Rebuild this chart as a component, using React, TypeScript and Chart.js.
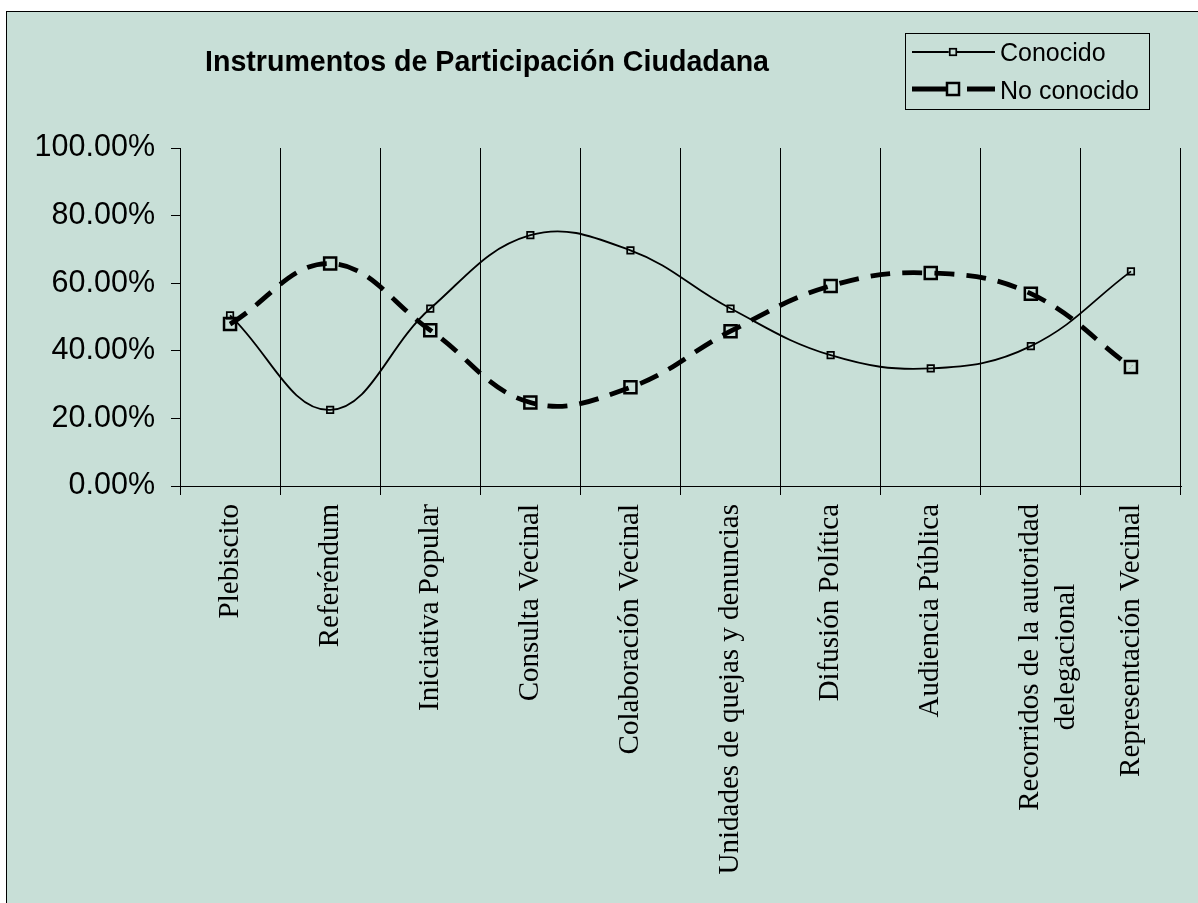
import React, { useEffect, useRef } from 'react';
import { Chart, registerables } from 'chart.js';

Chart.register(...registerables);

const title = 'Instrumentos de Participación Ciudadana';
const categories: (string | string[])[] = [
  'Plebiscito',
  'Referéndum',
  'Iniciativa Popular',
  'Consulta Vecinal',
  'Colaboración Vecinal',
  'Unidades de quejas y denuncias',
  'Difusión Política',
  'Audiencia Pública',
  ['Recorridos de la autoridad', 'delegacional'],
  'Representación Vecinal',
];
const seriesNames = ['Conocido', 'No conocido'];
const conocido = [50.5, 22.5, 52.5, 74.2, 69.7, 52.5, 38.7, 34.8, 41.4, 63.5];
const noConocido = [47.9, 65.8, 46.1, 24.7, 29.2, 45.8, 59.2, 63.0, 56.9, 35.2];
const yMin = 0;
const yMax = 100;
const yStep = 20;

const BG = '#C8DFD7';
const SANS = "'Liberation Sans', Arial, sans-serif";
const SERIF = "'Liberation Serif', 'Times New Roman', serif";
const XFONT = 29;

const measureCtx = (() => {
  const c = document.createElement('canvas');
  return c.getContext('2d')!;
})();

const overlay = {
  id: 'overlay',
  afterDraw(chart: any) {
    const ctx: CanvasRenderingContext2D = chart.ctx;
    ctx.save();
    // title
    ctx.fillStyle = '#000';
    ctx.font = `bold 28.6px ${SANS}`;
    ctx.textAlign = 'center';
    ctx.textBaseline = 'alphabetic';
    ctx.fillText(title, 487, 71);

    // legend box
    ctx.strokeStyle = '#000';
    ctx.lineWidth = 1;
    ctx.strokeRect(905.5, 33.5, 244, 76);

    const rows = [
      { ds: chart.data.datasets[0], y: 52, ty: 61 },
      { ds: chart.data.datasets[1], y: 89, ty: 99 },
    ];
    rows.forEach(({ ds, y, ty }) => {
      const half = Math.SQRT1_2 * ds.pointRadius;
      ctx.strokeStyle = '#000';
      ctx.lineWidth = ds.borderWidth;
      ctx.setLineDash([]);
      ctx.beginPath();
      ctx.moveTo(912, y);
      ctx.lineTo(953 - half - 1, y);
      ctx.moveTo(ds.borderDash && ds.borderDash.length ? 967 : 953 + half, y);
      ctx.lineTo(995, y);
      ctx.stroke();
      ctx.lineWidth = ds.pointBorderWidth;
      ctx.strokeRect(953 - half, y - half, half * 2, half * 2);
      ctx.fillStyle = '#000';
      ctx.font = `25px ${SANS}`;
      ctx.textAlign = 'left';
      ctx.textBaseline = 'alphabetic';
      ctx.fillText(ds.label, 1000, ty);
    });
    ctx.restore();
  },
};

export default function App() {
  const ref = useRef<HTMLCanvasElement>(null);

  useEffect(() => {
    if (!ref.current) return;
    measureCtx.font = `${XFONT}px ${SERIF}`;
    const chart = new Chart(ref.current, {
      type: 'line',
      data: {
        labels: categories as any,
        datasets: [
          {
            label: seriesNames[0],
            data: conocido,
            borderColor: '#000',
            borderWidth: 1.8,
            tension: 0.4,
            pointStyle: 'rect',
            pointRadius: 4.6,
            pointBorderWidth: 1.7,
            pointBorderColor: '#000',
            pointBackgroundColor: 'rgba(0,0,0,0)',
            fill: false,
          } as any,
          {
            label: seriesNames[1],
            data: noConocido,
            borderColor: '#000',
            borderWidth: 4.8,
            borderDash: [20, 12],
            tension: 0.4,
            pointStyle: 'rect',
            pointRadius: 8.5,
            pointBorderWidth: 2.5,
            pointBorderColor: '#000',
            pointBackgroundColor: 'rgba(0,0,0,0)',
            fill: false,
          } as any,
        ],
      },
      options: {
        responsive: false,
        animation: false,
        devicePixelRatio: 1,
        layout: { padding: { left: 0, top: 148, right: 17, bottom: 0 } },
        plugins: {
          legend: { display: false },
          title: { display: false },
          tooltip: { enabled: false },
        },
        scales: {
          x: {
            type: 'category',
            offset: true,
            grid: { offset: true, color: '#000', lineWidth: 1, tickLength: 9, drawOnChartArea: true },
            border: { display: true, color: '#000', width: 1 },
            ticks: {
              minRotation: 90,
              maxRotation: 90,
              autoSkip: false,
              padding: 9,
              color: '#000',
              font: { family: SERIF, size: XFONT, lineHeight: 1.22 },
              callback: (_v: any, index: number) => {
                const lbl = categories[index];
                if (!Array.isArray(lbl)) return lbl;
                const widths = lbl.map((l) => measureCtx.measureText(l).width);
                const maxW = Math.max(...widths);
                const sp = measureCtx.measureText(' ').width;
                return lbl.map((l, i) => l + ' '.repeat(Math.round((maxW - widths[i]) / 2 / sp)));
              },
            },
            afterFit: (s: any) => {
              s.height = 417;
            },
          },
          y: {
            min: yMin,
            max: yMax,
            ticks: {
              stepSize: yStep,
              padding: 16,
              color: '#000',
              font: { family: SANS, size: 30.5 },
              callback: (v: any) => Number(v).toFixed(2) + '%',
            },
            grid: { drawOnChartArea: false, color: '#000', tickLength: 9 },
            border: { display: true, color: '#000', width: 1 },
            afterFit: (s: any) => {
              s.width = 180;
            },
          },
        },
      },
      plugins: [overlay],
    });
    return () => chart.destroy();
  }, []);

  return (
    <div style={{ position: 'fixed', left: 0, top: 0, width: 1198, height: 903, overflow: 'hidden', background: '#fff' }}>
      <div
        style={{
          position: 'absolute',
          left: 6,
          top: 11,
          width: 1220,
          height: 920,
          border: '1px solid #000',
          background: BG,
        }}
      />
      <canvas ref={ref} width={1198} height={903} style={{ position: 'absolute', left: 0, top: 0, width: 1198, height: 903 }} />
    </div>
  );
}
